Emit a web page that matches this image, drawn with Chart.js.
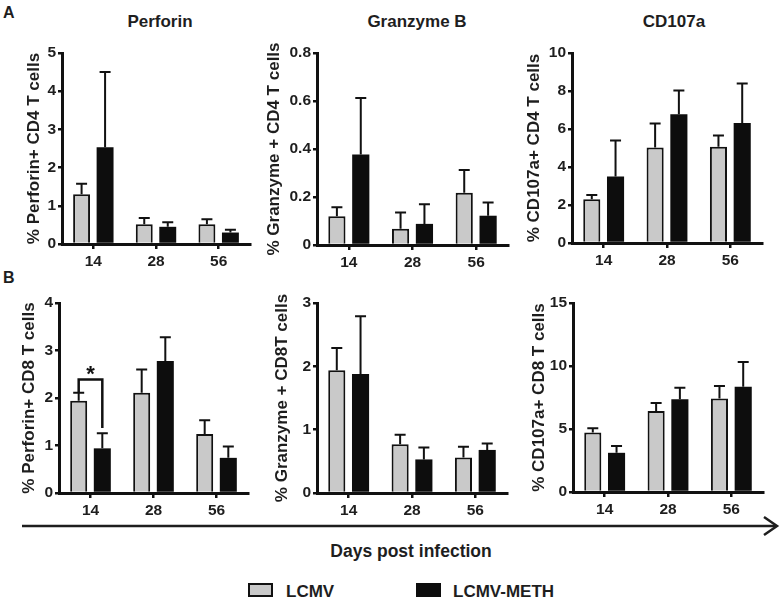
<!DOCTYPE html>
<html>
<head>
<meta charset="utf-8">
<script src="https://cdn.jsdelivr.net/npm/chart.js@4.4.0/dist/chart.umd.min.js"></script>
<style>
body { margin: 0; background: #fff; width: 780px; height: 602px; position: relative; overflow: hidden;
  font-family: "Liberation Sans", Arial, sans-serif; font-weight: bold; color: #1e1e1e; }
.t { position: absolute; white-space: nowrap; line-height: 1; }
.c { text-align: center; width: 240px; }
canvas { position: absolute; }
.box { position: absolute; width: 25px; height: 14px; box-sizing: border-box; }
</style>
</head>
<body>
<div class="t" style="left:3px;top:5px;font-size:16px">A</div>
<div class="t" style="left:3px;top:270px;font-size:16px">B</div>
<div class="t c" style="left:40px;top:13px;font-size:17px">Perforin</div>
<div class="t c" style="left:297px;top:13px;font-size:17px">Granzyme B</div>
<div class="t c" style="left:554px;top:13px;font-size:17px">CD107a</div>

<svg style="position:absolute;left:0;top:0" width="780" height="602">
  <line x1="22" y1="526" x2="776" y2="526" stroke="#1e1e1e" stroke-width="2.5"/>
  <polyline points="764,517 777,526 764,535" fill="none" stroke="#1e1e1e" stroke-width="2.5"/>
</svg>
<div class="t c" style="left:291px;top:543px;font-size:17.5px">Days post infection</div>

<div class="box" style="left:248px;top:583px;background:#c9c9c9;border:2.5px solid #111"></div>
<div class="t" style="left:286px;top:583px;font-size:17px" id="lg0"></div>
<div class="box" style="left:416px;top:583px;background:#0d0d0d"></div>
<div class="t" style="left:453px;top:583px;font-size:17px" id="lg1"></div>

<script>
const days = ['14', '28', '56'];
const seriesNames = ['LCMV', 'LCMV-METH'];

// A: CD4 T cells (mean, upper SEM)
const perforinCD4Lcmv = [1.30, 0.52, 0.52];
const perforinCD4LcmvErr = [0.28, 0.16, 0.13];
const perforinCD4Meth = [2.53, 0.45, 0.30];
const perforinCD4MethErr = [1.97, 0.12, 0.07];

const granzymeCD4Lcmv = [0.120, 0.068, 0.218];
const granzymeCD4LcmvErr = [0.037, 0.067, 0.094];
const granzymeCD4Meth = [0.377, 0.088, 0.122];
const granzymeCD4MethErr = [0.235, 0.082, 0.055];

const cd107aCD4Lcmv = [2.30, 5.03, 5.06];
const cd107aCD4LcmvErr = [0.23, 1.26, 0.60];
const cd107aCD4Meth = [3.50, 6.77, 6.31];
const cd107aCD4MethErr = [1.90, 1.26, 2.09];

// B: CD8 T cells
const perforinCD8Lcmv = [1.94, 2.11, 1.24];
const perforinCD8LcmvErr = [0.17, 0.49, 0.29];
const perforinCD8Meth = [0.94, 2.78, 0.74];
const perforinCD8MethErr = [0.32, 0.50, 0.24];

const granzymeCD8Lcmv = [1.94, 0.77, 0.56];
const granzymeCD8LcmvErr = [0.35, 0.15, 0.17];
const granzymeCD8Meth = [1.88, 0.53, 0.68];
const granzymeCD8MethErr = [0.91, 0.19, 0.10];

const cd107aCD8Lcmv = [4.72, 6.43, 7.43];
const cd107aCD8LcmvErr = [0.34, 0.64, 0.98];
const cd107aCD8Meth = [3.11, 7.36, 8.36];
const cd107aCD8MethErr = [0.55, 0.92, 1.95];

// significance bracket at day 14 (bracket top, left leg end, right leg end)
const sigPerforinCD8 = [2.39, 2.11, 1.37];

document.getElementById('lg0').textContent = seriesNames[0];
document.getElementById('lg1').textContent = seriesNames[1];

Chart.defaults.font.family = '"Liberation Sans", Arial, sans-serif';
Chart.defaults.font.weight = 'bold';
Chart.defaults.color = '#1e1e1e';

const INK = '#111';

// upper error bars from the dataset's errors array
const errorBars = {
  id: 'errorBars',
  afterDatasetsDraw(chart) {
    const ctx = chart.ctx;
    const y = chart.scales.y;
    ctx.save();
    ctx.strokeStyle = INK;
    ctx.lineWidth = 2;
    chart.data.datasets.forEach((ds, i) => {
      chart.getDatasetMeta(i).data.forEach((bar, j) => {
        const top = y.getPixelForValue(ds.data[j] + ds.errors[j]);
        ctx.beginPath();
        ctx.moveTo(bar.x, bar.y);
        ctx.lineTo(bar.x, top);
        ctx.moveTo(bar.x - 5.5, top);
        ctx.lineTo(bar.x + 5.5, top);
        ctx.stroke();
      });
    });
    ctx.restore();
  }
};

const sigBracket = {
  id: 'sigBracket',
  afterDatasetsDraw(chart, args, opts) {
    if (!opts.values) return;
    const ctx = chart.ctx;
    const y = chart.scales.y;
    const a = chart.getDatasetMeta(0).data[0];
    const b = chart.getDatasetMeta(1).data[0];
    const yt = y.getPixelForValue(opts.values[0]);
    ctx.save();
    ctx.strokeStyle = INK;
    ctx.lineWidth = 2.5;
    ctx.beginPath();
    ctx.moveTo(a.x, y.getPixelForValue(opts.values[1]));
    ctx.lineTo(a.x, yt);
    ctx.lineTo(b.x, yt);
    ctx.lineTo(b.x, y.getPixelForValue(opts.values[2]));
    ctx.stroke();
    ctx.fillStyle = INK;
    ctx.font = 'bold 22px "Liberation Sans", Arial, sans-serif';
    ctx.textAlign = 'center';
    ctx.textBaseline = 'alphabetic';
    ctx.fillText('*', (a.x + b.x) / 2, yt + 2);
    ctx.restore();
  }
};

const panels = [
  { lcmv: perforinCD4Lcmv, lcmvErr: perforinCD4LcmvErr, meth: perforinCD4Meth, methErr: perforinCD4MethErr,
    max: 5, step: 1, title: '% Perforin+ CD4 T cells', area: [62, 53, 250, 244], yW: 42 },
  { lcmv: granzymeCD4Lcmv, lcmvErr: granzymeCD4LcmvErr, meth: granzymeCD4Meth, methErr: granzymeCD4MethErr,
    max: 0.8, step: 0.2, title: '% Granzyme + CD4 T cells', area: [317, 53, 508, 245], yW: 57 },
  { lcmv: cd107aCD4Lcmv, lcmvErr: cd107aCD4LcmvErr, meth: cd107aCD4Meth, methErr: cd107aCD4MethErr,
    max: 10, step: 2, title: '% CD107a+ CD4 T cells', area: [572, 53, 762, 243], yW: 52 },
  { lcmv: perforinCD8Lcmv, lcmvErr: perforinCD8LcmvErr, meth: perforinCD8Meth, methErr: perforinCD8MethErr,
    max: 4, step: 1, title: '% Perforin+ CD8 T cells', area: [59, 303, 248, 493], yW: 44, sig: sigPerforinCD8 },
  { lcmv: granzymeCD8Lcmv, lcmvErr: granzymeCD8LcmvErr, meth: granzymeCD8Meth, methErr: granzymeCD8MethErr,
    max: 3, step: 1, title: '% Granzyme + CD8T cells', area: [317, 303, 507, 493], yW: 49 },
  { lcmv: cd107aCD8Lcmv, lcmvErr: cd107aCD8LcmvErr, meth: cd107aCD8Meth, methErr: cd107aCD8MethErr,
    max: 15, step: 5, title: '% CD107a+ CD8 T cells', area: [573, 303, 763, 492], yW: 48 },
];

panels.forEach(p => {
  const [l, t, r, b] = p.area;
  const cv = document.createElement('canvas');
  cv.width = (r - l) + 80;
  cv.height = (b - t) + 55;
  cv.style.left = (l - 70) + 'px';
  cv.style.top = (t - 20) + 'px';
  document.body.appendChild(cv);

  new Chart(cv, {
    type: 'bar',
    plugins: [errorBars, sigBracket],
    data: {
      labels: days,
      datasets: [{
        label: seriesNames[0],
        data: p.lcmv,
        errors: p.lcmvErr,
        backgroundColor: '#c9c9c9',
        borderColor: INK,
        borderWidth: 2,
      }, {
        label: seriesNames[1],
        data: p.meth,
        errors: p.methErr,
        backgroundColor: '#0d0d0d',
        borderColor: '#0d0d0d',
        borderWidth: 0,
      }]
    },
    options: {
      responsive: false,
      animation: false,
      categoryPercentage: 0.75,
      barPercentage: 0.72,
      layout: { padding: { left: 70 - p.yW, top: 20, right: 10, bottom: 7 } },
      plugins: {
        legend: { display: false },
        tooltip: { enabled: false },
        sigBracket: { values: p.sig },
      },
      scales: {
        x: {
          z: 1,
          afterFit: s => { s.height = 28; },
          grid: { offset: false, drawOnChartArea: false, color: INK, lineWidth: 2.5, tickLength: 5 },
          border: { color: INK, width: 3 },
          ticks: { color: '#1e1e1e', font: { size: 15.5, weight: 'bold' }, padding: 3 },
        },
        y: {
          z: 1,
          min: 0,
          max: p.max,
          afterFit: s => { s.width = p.yW; },
          grid: { drawOnChartArea: false, color: INK, lineWidth: 2.5, tickLength: 4 },
          border: { color: INK, width: 3 },
          ticks: { stepSize: p.step, color: '#1e1e1e', font: { size: 15.5, weight: 'bold' }, padding: 2 },
          title: { display: true, text: p.title, color: '#1e1e1e', font: { size: 17, weight: 'bold' }, padding: 4 },
        }
      }
    }
  });
});
</script>
</body>
</html>
